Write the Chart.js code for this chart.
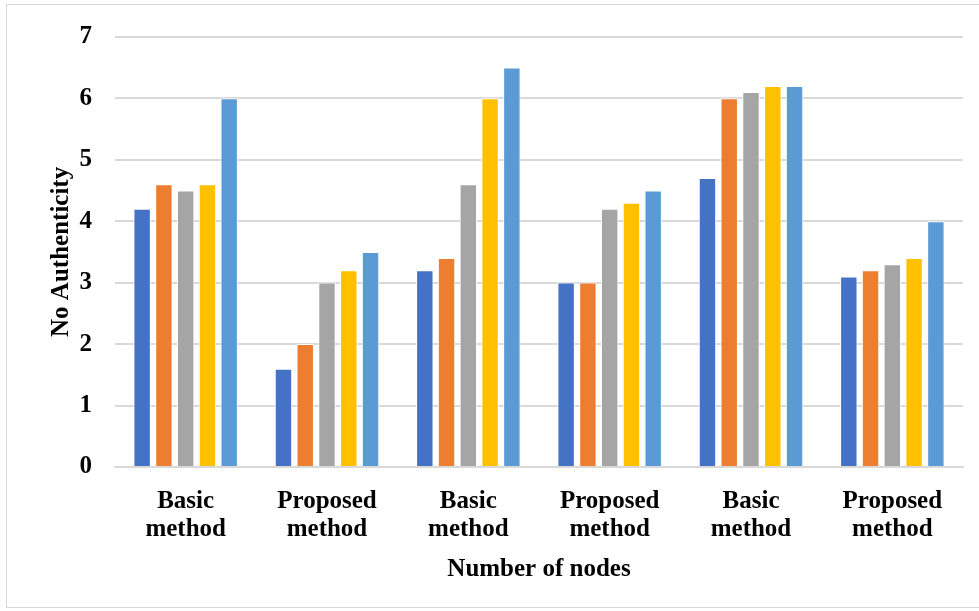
<!DOCTYPE html>
<html>
<head>
<meta charset="utf-8">
<script src="https://cdn.jsdelivr.net/npm/chart.js@4"></script>
<style>
  html, body { margin: 0; padding: 0; background: #ffffff; }
  #wrap { position: relative; width: 979px; height: 611px; overflow: hidden; }
  #frame { position: absolute; left: 6px; top: 4px; width: 990px; height: 604px; border: 1.5px solid #d9d9d9; box-sizing: border-box; }
  canvas { position: absolute; left: 0; top: 0; }
</style>
</head>
<body>
<div id="wrap">
  <div id="frame"></div>
  <canvas id="c" width="979" height="611"></canvas>
</div>
<script>
const categories = [
  ['Basic', 'method'], ['Proposed', 'method'],
  ['Basic', 'method'], ['Proposed', 'method'],
  ['Basic', 'method'], ['Proposed', 'method']
];
const series1 = [4.2, 1.6, 3.2, 3.0, 4.7, 3.1];
const series2 = [4.6, 2.0, 3.4, 3.0, 6.0, 3.2];
const series3 = [4.5, 3.0, 4.6, 4.2, 6.1, 3.3];
const series4 = [4.6, 3.2, 6.0, 4.3, 6.2, 3.4];
const series5 = [6.0, 3.5, 6.5, 4.5, 6.2, 4.0];
const seriesNames = ['Series 1', 'Series 2', 'Series 3', 'Series 4', 'Series 5'];
const colors = ['#4472c4', '#ed7d31', '#a5a5a5', '#ffc000', '#5b9bd5'];
const yTitle = 'No Authenticity';
const xTitle = 'Number of nodes';

const allSeries = [series1, series2, series3, series4, series5];
const fam = '"Liberation Serif", "Times New Roman", serif';
const font = { family: fam, weight: 'bold', size: 25, lineHeight: 1.1 };
const titleFont = { family: fam, weight: 'bold', size: 25, lineHeight: 1.2 };

new Chart(document.getElementById('c'), {
  type: 'bar',
  data: {
    labels: categories,
    datasets: allSeries.map((d, i) => ({
      label: seriesNames[i],
      data: d,
      backgroundColor: colors[i],
      borderColor: '#ffffff',
      borderWidth: 1,
      categoryPercentage: 0.77,
      barPercentage: 0.8
    }))
  },
  options: {
    responsive: false,
    animation: false,
    layout: { padding: { top: 36, right: 16, left: 0, bottom: 0 } },
    plugins: { legend: { display: false }, tooltip: { enabled: false } },
    scales: {
      x: {
        grid: { display: false, drawTicks: false },
        border: { color: '#d9d9d9', width: 2 },
        ticks: { color: '#000', font: font, padding: 21, maxRotation: 0, autoSkip: false },
        title: { display: true, text: xTitle, color: '#000', font: titleFont, padding: { top: 4, bottom: 26 } },
        afterFit: (s) => { s.height = 144; }
      },
      y: {
        min: 0, max: 7,
        ticks: { stepSize: 1, color: '#000', font: font, padding: 23 },
        grid: { color: '#d9d9d9', lineWidth: 2, drawTicks: false },
        border: { display: false },
        title: { display: true, text: yTitle, color: '#000', font: titleFont, padding: { top: 47, bottom: 0 } },
        afterFit: (s) => { s.width = 115; }
      }
    }
  }
});
</script>
</body>
</html>
